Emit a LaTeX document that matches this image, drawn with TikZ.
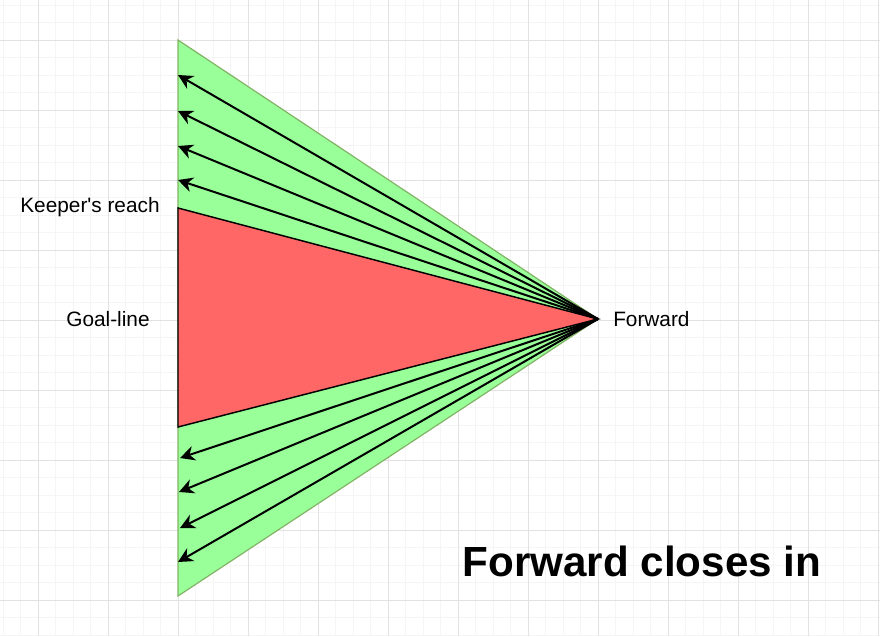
\documentclass[tikz,border=0pt]{standalone}
\usepackage{fontspec}
\setmainfont{Liberation Sans}
\usetikzlibrary{arrows.meta}
\definecolor{gfill}{HTML}{99FF99}
\definecolor{gline}{HTML}{82B366}
\definecolor{rfill}{HTML}{FF6666}
\definecolor{minorg}{HTML}{F5F5F5}
\definecolor{majorg}{HTML}{E2E2E2}
\tikzset{
  shotline/.style={line width=1.5pt},
  lbl/.style={font=\fontsize{15.6}{18}\selectfont,inner sep=0pt},
  ttl/.style={font=\fontsize{31.6}{36}\selectfont\bfseries,inner sep=0pt}
}
\begin{document}
\begin{tikzpicture}[x=0.75pt,y=-0.75pt]
\useasboundingbox (0,0) rectangle (880,636);
\fill[white] (0,0) rectangle (880,636);
% grid
\foreach \i in {0,...,50} {
  \pgfmathsetmacro\xx{3+17.5*\i}
  \ifdim \xx pt<880pt \draw[minorg,line width=0.75pt] (\xx,0) -- (\xx,636); \fi
}
\foreach \i in {0,...,36} {
  \pgfmathsetmacro\yy{5+17.5*\i}
  \ifdim \yy pt<636pt \draw[minorg,line width=0.75pt] (0,\yy) -- (880,\yy); \fi
}
\foreach \xx in {38,108,...,878} \draw[majorg,line width=0.75pt] (\xx,0) -- (\xx,636);
\foreach \yy in {40,110,...,600} \draw[majorg,line width=0.75pt] (0,\yy) -- (880,\yy);
% coordinates
\coordinate (F) at (598,319);
\coordinate (GT) at (178,40);
\coordinate (GB) at (178,596);
\coordinate (RT) at (178,208);
\coordinate (RB) at (178,427);
\coordinate (a1) at (178,75);
\coordinate (a2) at (178,111);
\coordinate (a3) at (178,146);
\coordinate (a4) at (178,180);
\coordinate (b1) at (180,458);
\coordinate (b2) at (179,492);
\coordinate (b3) at (180,528);
\coordinate (b4) at (178,562);
% shapes
\draw[fill=gfill,draw=gline,line width=0.9pt] (GT) -- (F) -- (GB) -- cycle;
\draw[fill=rfill,draw=black,line width=1.1pt,line join=miter] (RT) -- (F) -- (RB) -- cycle;
% shots
\foreach \p in {a1,a2,a3,a4,b1,b2,b3,b4}
  \draw[shotline,-{Stealth[length=11pt,width=11pt,inset=3.5pt]}] (F) -- (\p);
% labels
\node[lbl] (keeper) at (90,207) {Keeper\textquotesingle s reach};
\node[lbl] (goal) at (108,319) {Goal-line};
\node[lbl,anchor=west] (fwd) at (613,319) {Forward};
\node[ttl] (title) at (642,561) {Forward closes in};
\end{tikzpicture}
\end{document}
